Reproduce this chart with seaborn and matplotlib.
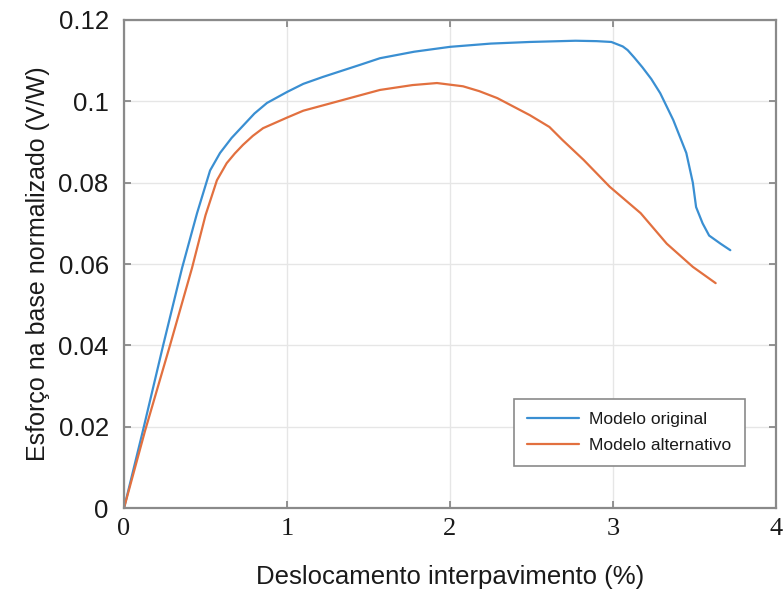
import numpy as np
import pandas as pd
import matplotlib
matplotlib.use("Agg")
import matplotlib.pyplot as plt
import seaborn as sns

# Data
x_original = [0.0, 0.117, 0.24, 0.356, 0.448, 0.528, 0.589, 0.66, 0.73, 0.80, 0.877, 1.0, 1.1,
              1.22, 1.45, 1.57, 1.78, 2.0, 2.25, 2.49, 2.77, 2.90, 2.99, 3.06, 3.09, 3.13, 3.18,
              3.235, 3.29, 3.37, 3.45, 3.49, 3.51, 3.55, 3.59, 3.66, 3.72]
y_original = [0.0, 0.0192, 0.040, 0.059, 0.0725, 0.083, 0.0873, 0.0910, 0.094, 0.0970, 0.0996,
              0.1023, 0.1043, 0.106, 0.109, 0.1106, 0.1122, 0.1134, 0.1142, 0.1146, 0.1149, 0.1148,
              0.1146, 0.1135, 0.1126, 0.1108, 0.1084, 0.1055, 0.102, 0.0954, 0.0873, 0.080, 0.074,
              0.070, 0.067, 0.065, 0.0634]

x_alt = [0.0, 0.129, 0.282, 0.417, 0.50, 0.57, 0.63, 0.68, 0.73, 0.79, 0.853, 1.0, 1.1, 1.22,
         1.45, 1.57, 1.77, 1.92, 2.08, 2.18, 2.29, 2.49, 2.61, 2.69, 2.82, 2.98, 3.17, 3.33, 3.49,
         3.63]
y_alt = [0.0, 0.019, 0.040, 0.059, 0.072, 0.0806, 0.0848, 0.0872, 0.0893, 0.0915, 0.0934, 0.096,
         0.0977, 0.099, 0.1015, 0.1028, 0.104, 0.1045, 0.1037, 0.1025, 0.1008, 0.0966, 0.0937,
         0.0905, 0.0856, 0.079, 0.0725, 0.065, 0.0593, 0.0553]

series_names = ["Modelo original", "Modelo alternativo"]
x_ticks = [0, 1, 2, 3, 4]
y_ticks = [0, 0.02, 0.04, 0.06, 0.08, 0.1, 0.12]
y_tick_labels = ["0", "0.02", "0.04", "0.06", "0.08", "0.1", "0.12"]
x_label = "Deslocamento interpavimento (%)"
y_label = "Esforço na base normalizado (V/W)"

df = pd.concat([
    pd.DataFrame({"x": x_original, "y": y_original, "Modelo": series_names[0]}),
    pd.DataFrame({"x": x_alt, "y": y_alt, "Modelo": series_names[1]}),
], ignore_index=True)

sns.set_theme(style="whitegrid")
plt.rcParams["font.family"] = ["Liberation Sans", "DejaVu Sans"]
plt.rcParams["text.color"] = "#1a1a1a"
plt.rcParams["axes.labelcolor"] = "#1a1a1a"
plt.rcParams["xtick.labelcolor"] = "#1a1a1a"
plt.rcParams["ytick.labelcolor"] = "#1a1a1a"

fig = plt.figure(figsize=(7.83, 5.97), dpi=100)
ax = fig.add_axes([0.1584, 0.149, 0.8326, 0.8175])

palette = {series_names[0]: "#3a8fd2", series_names[1]: "#e2703f"}
sns.lineplot(data=df, x="x", y="y", hue="Modelo", estimator=None,
             sort=False, palette=palette, linewidth=1.6, ax=ax)

ax.set_xlim(0, 4)
ax.set_ylim(0, 0.12)
ax.set_xticks(x_ticks)
ax.set_xticklabels([str(t) for t in x_ticks], fontfamily="Liberation Serif", fontsize=19)
ax.set_yticks(y_ticks)
ax.set_yticklabels(y_tick_labels, fontsize=18.5)
ax.tick_params(axis="y", pad=11, direction="in", length=5, color="#808080",
               left=True, right=True, width=1.2)
ax.tick_params(axis="x", pad=7, direction="in", length=5, color="#808080",
               bottom=True, top=True, width=1.2)
ax.set_xlabel(x_label, fontsize=18.5, labelpad=18)
ax.set_ylabel(y_label, fontsize=18, labelpad=6)

ax.grid(True, color="#e6e6e6", linewidth=1.0)
for s in ax.spines.values():
    s.set_visible(True)
    s.set_color("#8a8a8a")
    s.set_linewidth(1.6)

ax.set_facecolor("white")
fig.patch.set_facecolor("white")

handles, labels = ax.get_legend_handles_labels()
leg = ax.legend(handles, labels, loc="lower right", bbox_to_anchor=(0.952, 0.086),
                borderaxespad=0.0, fontsize=12.5, frameon=True, fancybox=False,
                handlelength=3.0, borderpad=0.75, labelspacing=0.6, handletextpad=0.6)
leg.get_frame().set_edgecolor("#8a8a8a")
leg.get_frame().set_linewidth(1.2)
leg.get_frame().set_alpha(1)

fig.savefig("out.png", dpi=100)
